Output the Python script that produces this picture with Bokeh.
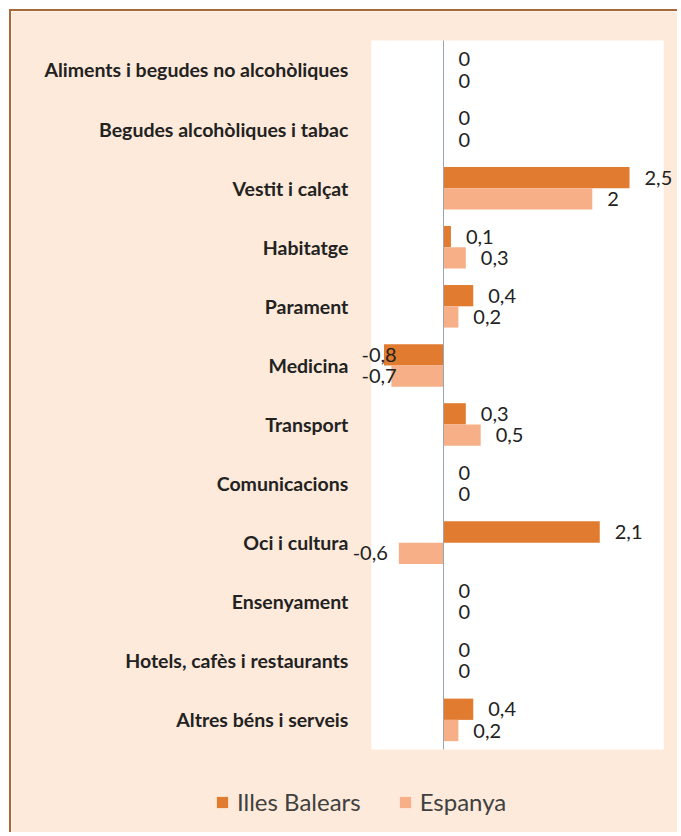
from bokeh.plotting import figure
from bokeh.models import Range1d, Legend, LegendItem, ColumnDataSource
from bokeh.core.properties import value
from bokeh.embed import file_html
from bokeh.resources import INLINE

categories = [
    "Aliments i begudes no alcohòliques",
    "Begudes alcohòliques i tabac",
    "Vestit i calçat",
    "Habitatge",
    "Parament",
    "Medicina",
    "Transport",
    "Comunicacions",
    "Oci i cultura",
    "Ensenyament",
    "Hotels, cafès i restaurants",
    "Altres béns i serveis",
]
illes_balears = [0, 0, 2.5, 0.1, 0.4, -0.8, 0.3, 0, 2.1, 0, 0, 0.4]
espanya = [0, 0, 2.0, 0.3, 0.2, -0.7, 0.5, 0, -0.6, 0, 0, 0.2]
series_names = ["Illes Balears", "Espanya"]
series_colors = ["#E07B2F", "#F7AF88"]
series_offsets = [-0.18, 0.18]   # row units (y axis flipped: negative = upper bar)

BG = "#FDEADA"
FONT = "Lato"
TXT = "#222222"

# value-axis extent of the white plot area, and the row extent
x_min, x_max = -0.97, 2.96
n = len(categories)
rows = list(range(n))
y_top, y_bot = -0.5, n - 0.5


def fmt(v):
    return ("%g" % v).replace(".", ",")


p = figure(
    width=668, height=823,
    x_range=Range1d(-5.806, 3.172),
    y_range=Range1d(12.94, -0.99),
    output_backend="svg", toolbar_location=None,
    min_border=0,
    background_fill_color=BG, border_fill_color=BG,
    styles={"margin-left": "9px", "margin-top": "9px",
            "border-left": "2px solid #A8683A", "border-top": "2px solid #A8683A"},
)
p.outline_line_color = None
p.xaxis.visible = False
p.yaxis.visible = False
p.xgrid.visible = False
p.ygrid.visible = False

# white plot area
p.quad(left=[x_min], right=[x_max], top=[y_top], bottom=[y_bot],
       fill_color="white", line_color=None)

# category labels
p.text(x=[x_min] * n, y=rows, text=categories, x_offset=-23,
       text_align="right", text_baseline="middle",
       text_font=value(FONT), text_font_style="bold", text_font_size="19.5px",
       text_color=TXT)

renderers = []
for name, vals, color, off in zip(series_names, [illes_balears, espanya], series_colors, series_offsets):
    ys = [r + off for r in rows]
    src = ColumnDataSource(dict(y=ys, val=vals))
    r = p.hbar(y="y", left=0, right="val", height=0.36,
               fill_color=color, line_color=None, source=src)
    renderers.append(r)

    pos = [(y, v) for y, v in zip(ys, vals) if v >= 0]
    neg = [(y, v) for y, v in zip(ys, vals) if v < 0]
    psrc = ColumnDataSource(dict(y=[y for y, v in pos], x=[v for y, v in pos],
                                 t=[fmt(v) for y, v in pos]))
    p.text(x="x", y="y", text="t", source=psrc,
           x_offset=15, text_align="left", text_baseline="middle",
           text_font=value(FONT), text_font_size="20px", text_color=TXT)
    # negative labels: outside end, pushed right when they would hit the category labels
    nx = [max(v, -0.63) for y, v in neg]
    nxo = [(-11 if v > -0.62 else 0) for y, v in neg]
    nsrc = ColumnDataSource(dict(y=[y for y, v in neg], x=nx, xo=nxo,
                                 t=[fmt(v) for y, v in neg]))
    p.text(x="x", y="y", text="t", source=nsrc,
           x_offset="xo", text_align="right", text_baseline="middle",
           text_font=value(FONT), text_font_size="20px", text_color=TXT)

# zero line
p.segment(x0=[0], y0=[y_top], x1=[0], y1=[y_bot], line_color="#9AA5B5", line_width=1)

legend = Legend(
    items=[LegendItem(label=nm, renderers=[r]) for nm, r in zip(series_names, renderers)],
    orientation="horizontal", location=(204, 18),
    margin=0, padding=0, spacing=37, label_standoff=8,
    glyph_width=14, glyph_height=14,
    label_text_font=FONT, label_text_font_size="24px", label_text_color="#404040",
    background_fill_alpha=0, border_line_color=None,
)
p.add_layout(legend)

open("out.html", "w").write(file_html(p, INLINE))
